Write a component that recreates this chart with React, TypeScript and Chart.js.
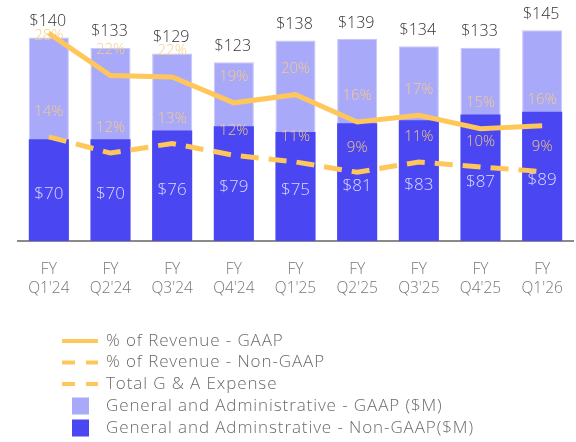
import React, { useEffect, useRef } from 'react';
import { Chart, registerables } from 'chart.js';

Chart.register(...registerables);

const categories = [
  ['FY', "Q1'24"], ['FY', "Q2'24"], ['FY', "Q3'24"], ['FY', "Q4'24"], ['FY', "Q1'25"],
  ['FY', "Q2'25"], ['FY', "Q3'25"], ['FY', "Q4'25"], ['FY', "Q1'26"],
];
const gaapTotal = [140, 133, 129, 123, 138, 139, 134, 133, 145];
const nonGaap = [70, 70, 76, 79, 75, 81, 83, 87, 89];
const gaapPct = [28.1, 22.4, 22.2, 18.7, 19.8, 16.1, 17.0, 15.2, 15.6];
const nonGaapPct = [14.1, 11.9, 13.2, 11.6, 10.7, 9.3, 10.7, 10.0, 9.4];
const gaapPctLabels = ['28%', '22%', '22%', '19%', '20%', '16%', '17%', '15%', '16%'];
const nonGaapPctLabels = ['14%', '12%', '13%', '12%', '11%', '9%', '11%', '10%', '9%'];

const legendItems = [
  { text: '% of Revenue - GAAP', kind: 'line' },
  { text: '% of Revenue - Non-GAAP', kind: 'dash' },
  { text: 'Total G & A Expense', kind: 'dash' },
  { text: 'General and Administrative - GAAP ($M)', kind: 'box', color: '#a9a9fa' },
  { text: 'General and Adminstrative - Non-GAAP($M)', kind: 'box', color: '#4a47f2' },
];

const FONT = "'Open Sans', sans-serif";
const LINE_COLOR = '#ffc65a';

const labelPlugin = {
  id: 'labelPlugin',
  afterDatasetsDraw(chart: any) {
    const ctx = chart.ctx;
    ctx.save();
    ctx.textAlign = 'center';
    ctx.textBaseline = 'middle';
    const lightMeta = chart.getDatasetMeta(3);
    ctx.font = `300 16px ${FONT}`;
    ctx.fillStyle = '#333333';
    lightMeta.data.forEach((bar: any, i: number) => {
      ctx.fillText(`$${gaapTotal[i]}`, bar.x - 1, bar.y - 16);
    });
    const darkMeta = chart.getDatasetMeta(2);
    ctx.font = `300 17px ${FONT}`;
    ctx.fillStyle = '#dcdcff';
    darkMeta.data.forEach((bar: any, i: number) => {
      ctx.fillText(`$${nonGaap[i]}`, bar.x, (bar.y + bar.base) / 2 + 4);
    });
    ctx.font = `300 15px ${FONT}`;
    ctx.fillStyle = 'rgba(247, 204, 130, 0.95)';
    const gMeta = chart.getDatasetMeta(0);
    gMeta.data.forEach((pt: any, i: number) => {
      ctx.fillText(gaapPctLabels[i], pt.x, Math.max(pt.y - 26, 36));
    });
    const nMeta = chart.getDatasetMeta(1);
    nMeta.data.forEach((pt: any, i: number) => {
      ctx.fillText(nonGaapPctLabels[i], pt.x, pt.y - 25);
    });
    ctx.restore();
  },
};

const legendPlugin = {
  id: 'customLegend',
  afterDraw(chart: any) {
    const ctx = chart.ctx;
    ctx.save();
    const rowY = [341, 362.5, 384, 406, 428];
    legendItems.forEach((item, i) => {
      const y = rowY[i];
      if (item.kind === 'line' || item.kind === 'dash') {
        ctx.strokeStyle = LINE_COLOR;
        ctx.lineWidth = 4;
        ctx.setLineDash(item.kind === 'dash' ? [13, 11] : []);
        ctx.beginPath();
        ctx.moveTo(62, y);
        ctx.lineTo(98, y);
        ctx.stroke();
        ctx.setLineDash([]);
      } else {
        ctx.fillStyle = item.color as string;
        ctx.fillRect(72, y - 8.5, 17, 17);
      }
      ctx.fillStyle = '#6b6b6b';
      ctx.font = `300 17px ${FONT}`;
      ctx.textAlign = 'left';
      ctx.textBaseline = 'middle';
      (ctx as any).letterSpacing = '0.9px';
      ctx.fillText(item.text, 106, y);
      (ctx as any).letterSpacing = '0px';
    });
    ctx.restore();
  },
};

export default function App() {
  const ref = useRef<HTMLCanvasElement>(null);
  useEffect(() => {
    document.body.style.margin = '0';
    const canvas = ref.current;
    if (!canvas) return;
    const chart = new Chart(canvas, {
      type: 'bar',
      data: {
        labels: categories,
        datasets: [
          {
            type: 'line',
            label: '% of Revenue - GAAP',
            data: gaapPct,
            yAxisID: 'y1',
            borderColor: LINE_COLOR,
            borderWidth: 5,
            pointRadius: 0,
            tension: 0,
            order: 0,
          },
          {
            type: 'line',
            label: '% of Revenue - Non-GAAP',
            data: nonGaapPct,
            yAxisID: 'y1',
            borderColor: LINE_COLOR,
            borderWidth: 5,
            borderDash: [18, 10],
            pointRadius: 0,
            tension: 0,
            order: 1,
          },
          {
            type: 'bar',
            label: 'General and Adminstrative - Non-GAAP($M)',
            data: nonGaap,
            yAxisID: 'y',
            backgroundColor: '#4a47f2',
            grouped: false,
            barPercentage: 0.65,
            categoryPercentage: 1,
            order: 2,
          },
          {
            type: 'bar',
            label: 'General and Administrative - GAAP ($M)',
            data: gaapTotal,
            yAxisID: 'y',
            backgroundColor: '#a9a9fa',
            borderColor: '#c6c6fc',
            borderWidth: 1,
            grouped: false,
            barPercentage: 0.65,
            categoryPercentage: 1,
            order: 3,
          },
        ] as any,
      },
      options: {
        animation: false,
        responsive: false,
        layout: { padding: { left: 18, right: 3, top: 23, bottom: 141 } },
        plugins: { legend: { display: false }, tooltip: { enabled: false } },
        scales: {
          x: {
            grid: { display: false },
            border: { display: true, color: '#8a8a8a', width: 2 },
            ticks: {
              color: '#777777',
              font: { family: FONT, size: 15.5, weight: 300 as any, lineHeight: 1.25 },
              padding: 11,
              maxRotation: 0,
              autoSkip: false,
            },
            afterFit: (axis: any) => { axis.height = 60; },
          },
          y: { display: false, min: 0, max: 150 },
          y1: { display: false, min: 0, max: 29.5, position: 'right' },
        },
      },
      plugins: [labelPlugin, legendPlugin],
    });
    return () => chart.destroy();
  }, []);
  return <canvas ref={ref} width={576} height={442} style={{ display: 'block' }} />;
}
